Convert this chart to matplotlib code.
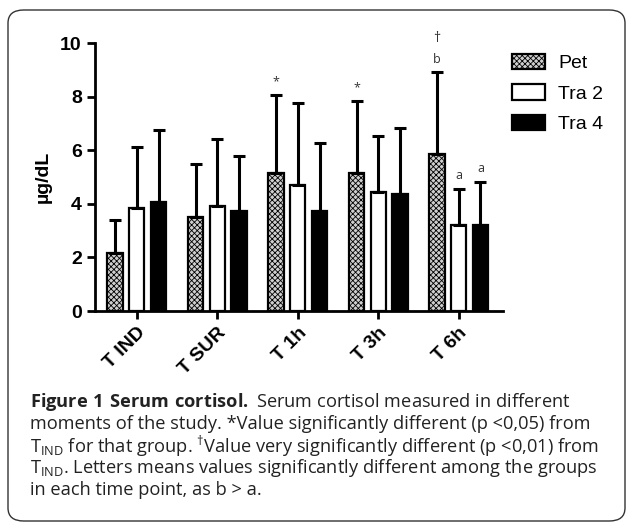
import numpy as np
import matplotlib
matplotlib.use('Agg')
import matplotlib.pyplot as plt
from matplotlib.patches import FancyBboxPatch

plt.rcParams['font.family'] = ['Liberation Sans', 'DejaVu Sans']
plt.rcParams['mathtext.fontset'] = 'custom'
plt.rcParams['mathtext.rm'] = 'Open Sans'
plt.rcParams['mathtext.bf'] = 'Open Sans:bold'
plt.rcParams['hatch.linewidth'] = 0.6
plt.rcParams['hatch.color'] = '#444444'

# data
times = ['T IND', 'T SUR', 'T 1h', 'T 3h', 'T 6h']
groups = ['Pet', 'Tra 2', 'Tra 4']
means = {
    'Pet':   [2.15, 3.50, 5.15, 5.15, 5.85],
    'Tra 2': [3.85, 3.90, 4.70, 4.45, 3.22],
    'Tra 4': [4.08, 3.72, 3.72, 4.38, 3.22],
}
tops = {	# top of the error bar
    'Pet':   [3.40, 5.50, 8.07, 7.85, 8.90],
    'Tra 2': [6.12, 6.42, 7.75, 6.53, 4.57],
    'Tra 4': [6.75, 5.77, 6.27, 6.83, 4.83],
}
marks = [('Pet', 2, '*'), ('Pet', 3, '*'), ('Pet', 4, 'b'),
         ('Tra 2', 4, 'a'), ('Tra 4', 4, 'a')]
caption = [
    r"$\mathbf{Figure\ 1\ Serum\ cortisol.}$ Serum cortisol measured in different",
    "moments of the study. *Value significantly different (p <0,05) from",
    r"T$_{\mathrm{IND}}$ for that group. $^{\dagger}$Value very significantly different (p <0,01) from",
    r"T$_{\mathrm{IND}}$. Letters means values significantly different among the groups",
    "in each time point, as b > a.",
]

W, H = 630, 523
fig = plt.figure(figsize=(W/100, H/100), dpi=100)

# rounded frame round the whole figure
frame = FancyBboxPatch((8/W, 2/H), 617/W, 511/H, boxstyle='round,pad=0,rounding_size=0.025',
                       transform=fig.transFigure, fill=False, ec='#333333', lw=1.0)
fig.patches.append(frame)

ax = fig.add_axes([95/W, 1 - 311/H, (503-95)/W, (311-43)/H])

x = np.arange(len(times))
offs = [-0.27, 0.0, 0.27]
w = 0.19
styles = {
    'Pet':   dict(facecolor='#cfcfcf', hatch='xxxxxx'),
    'Tra 2': dict(facecolor='white'),
    'Tra 4': dict(facecolor='black'),
}
for g, o in zip(groups, offs):
    m = np.array(means[g])
    err = np.array(tops[g]) - m
    ax.bar(x + o, m, w, edgecolor='black', lw=1.6, label=g, zorder=2, **styles[g])
    ax.errorbar(x + o, m, yerr=[np.zeros_like(err), err], fmt='none', ecolor='black',
                elinewidth=2.2, capsize=4, capthick=2.2, zorder=3)

for g, i, s in marks:
    o = offs[groups.index(g)]
    ax.text(x[i] + o, tops[g][i] + 0.25, s, ha='center', va='bottom', fontsize=9,
            color='#333333', family='Open Sans')
ax.text(x[4] + offs[0], tops['Pet'][4] + 1.0, '\u2020', ha='center', va='bottom',
        fontsize=10, color='#333333', family='Open Sans')

ax.set_xlim(-0.52, 4.55)
ax.set_ylim(0, 10)
ax.set_yticks([0, 2, 4, 6, 8, 10])
ax.set_xticks(x)
ax.set_xticklabels(times, rotation=45, ha='right', rotation_mode='anchor')
for sp in ['top', 'right']:
    ax.spines[sp].set_visible(False)
for sp in ['left', 'bottom']:
    ax.spines[sp].set_linewidth(2)
ax.tick_params(width=2, length=6, labelsize=14)
for t in ax.get_xticklabels() + ax.get_yticklabels():
    t.set_fontweight('bold')
ax.set_ylabel('\u00b5g/dL', fontsize=14, fontweight='bold', labelpad=6)

leg = ax.legend(loc='upper left', bbox_to_anchor=(494/W, 1 - 36/H), bbox_transform=fig.transFigure,
                frameon=False, fontsize=14, handlelength=1.7, handleheight=0.85,
                labelspacing=0.62, handletextpad=0.7)

# caption - size it so the longest line runs to about x=600
r = fig.canvas.get_renderer()
probe = fig.text(0, 0, caption[2], fontsize=11.5, family='Open Sans')
fs = 11.5 * 570 / probe.get_window_extent(r).width
probe.remove()
for i, line in enumerate(caption):
    fig.text(30/W, 1 - (402 + 22*i)/H, line, fontsize=fs, family='Open Sans',
             color='#222222', va='center')

fig.savefig('out.png', dpi=100)
